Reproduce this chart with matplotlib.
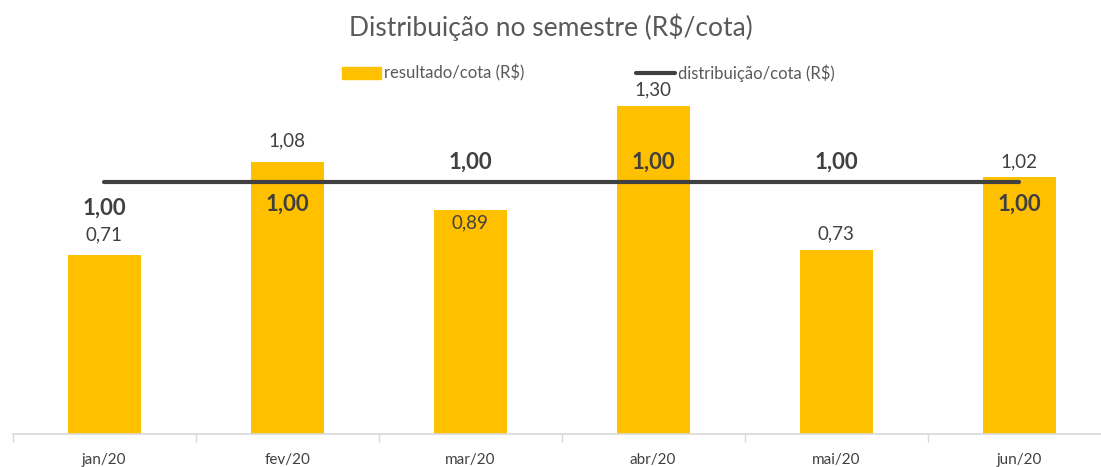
import numpy as np
import matplotlib.pyplot as plt
from matplotlib.patches import Patch
from matplotlib.lines import Line2D

plt.rcParams['font.family'] = ['Lato', 'DejaVu Sans']

meses = ["jan/20", "fev/20", "mar/20", "abr/20", "mai/20", "jun/20"]
resultado = [0.71, 1.08, 0.89, 1.30, 0.73, 1.02]
distribuicao = [1.00, 1.00, 1.00, 1.00, 1.00, 1.00]

# label offsets in pixels (bar label, line label)
off_bar = [20, 21, -13, 17, 16, 15]
off_lin = [-26, -22, 20, 20, 20, -22]

gold = "#FFC000"
dark = "#404040"

fig = plt.figure(figsize=(11.01, 4.67), dpi=100)
ax = fig.add_axes([12.6 / 1101, 33 / 467, 1098 / 1101, 352.8 / 467])

x = np.arange(len(meses))
ax.bar(x, resultado, width=0.4, color=gold, zorder=2)
ax.plot(x, distribuicao, color=dark, lw=3, solid_capstyle="round", zorder=3)

for i in range(len(meses)):
    ax.annotate(f"{resultado[i]:.2f}".replace(".", ","), (x[i], resultado[i]),
                xytext=(0, off_bar[i]), textcoords="offset pixels",
                ha="center", va="center", fontsize=13.5, color=dark, zorder=4)
    ax.annotate(f"{distribuicao[i]:.2f}".replace(".", ","), (x[i], distribuicao[i]),
                xytext=(0, off_lin[i]), textcoords="offset pixels",
                ha="center", va="center", fontsize=16, fontweight="bold",
                color=dark, zorder=4)

ax.set_xlim(-0.5, len(meses) - 0.5)
ax.set_ylim(0, 1.4)
ax.set_yticks([])
for s in ["top", "right", "left"]:
    ax.spines[s].set_visible(False)
ax.spines["bottom"].set_color("#d9d9d9")
ax.spines["bottom"].set_linewidth(1.2)

ax.set_xticks(x)
ax.set_xticklabels(meses, fontsize=11, color=dark)
ax.tick_params(axis="x", which="major", length=0, pad=14)
ax.set_xticks(np.arange(-0.5, len(meses)), minor=True)
ax.tick_params(axis="x", which="minor", length=6, color="#d9d9d9", width=1)

fig.text(0.5, 1 - 27 / 467, "Distribuição no semestre (R$/cota)", ha="center",
         va="center", fontsize=19, color="#595959")

handles = [Patch(color=gold, label="resultado/cota (R$)"),
           Line2D([], [], color=dark, lw=3, solid_capstyle="round",
                  label="distribuição/cota (R$)")]
leg = fig.legend(handles=handles, loc="center", ncol=2,
                 bbox_to_anchor=(588 / 1101, 1 - 73 / 467), frameon=False,
                 fontsize=12, handlelength=2.34, handletextpad=0.18,
                 columnspacing=6.7, borderpad=0)
for t in leg.get_texts():
    t.set_color("#595959")

fig.savefig("out.png", dpi=100)
